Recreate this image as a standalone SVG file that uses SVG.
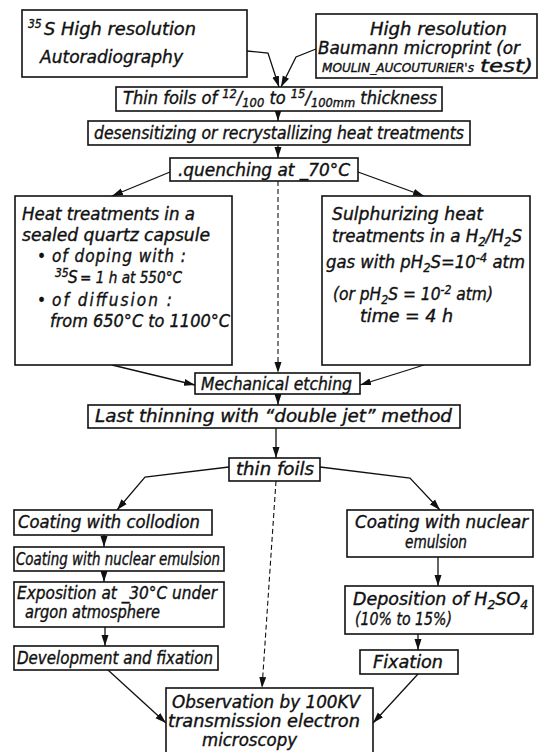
<svg xmlns="http://www.w3.org/2000/svg" width="545" height="752" viewBox="0 0 545 752">
<defs>
<style>
.b{fill:#fff;stroke:#111;stroke-width:1.6}
.t{font-family:"DejaVu Sans Condensed","DejaVu Sans",sans-serif;font-stretch:condensed;font-style:oblique;font-size:17px;fill:#111;stroke:#111;stroke-width:0.35}
.s{font-size:12px}
.c{stroke:#111;stroke-width:1.3;fill:none;marker-end:url(#a)}
.d{stroke-dasharray:5 3;stroke-width:1.1}
</style>
<marker id="a" markerUnits="userSpaceOnUse" markerWidth="12" markerHeight="8" refX="11" refY="4" orient="auto"><path d="M0,0.5 L11,4 L0,7.5 z" fill="#111"/></marker>
</defs>
<rect width="545" height="752" fill="#fff"/>
<g id="connectors">
<path class="c" d="M247,51 L268,53 L279,87"/>
<path class="c" d="M316,49 L296,57 L281,87"/>
<path class="c" d="M278,111 L278,121"/>
<path class="c" d="M278,145 L278,158"/>
<path class="c" d="M170,172 L112,196"/>
<path class="c" d="M358,172 L424,196"/>
<path class="c d" d="M278,181 L278,373"/>
<path class="c" d="M112,365 L195,385"/>
<path class="c" d="M424,365 L360,385"/>
<path class="c" d="M278,394 L278,405"/>
<path class="c" d="M276,428 L276,458"/>
<path class="c" d="M229,467 L145,477 L117,510"/>
<path class="c" d="M320,467 L410,478 L440,510"/>
<path class="c d" d="M276,481 L262,688"/>
<path class="c" d="M104,535 L104,547"/>
<path class="c" d="M104,571 L104,582"/>
<path class="c" d="M105,627 L105,646"/>
<path class="c" d="M108,670 L166,723"/>
<path class="c" d="M438,557 L438,586"/>
<path class="c" d="M418,634 L418,650"/>
<path class="c" d="M418,674 L373,723"/>
</g>
<g id="n1"><rect class="b" x="22" y="10" width="225" height="67"/>
<text class="t s" x="28" y="28">35</text>
<text class="t" x="44" y="35" style="font-size:18px" textLength="152" lengthAdjust="spacingAndGlyphs">S High resolution</text>
<text class="t" x="40" y="63" style="font-size:18px" textLength="143" lengthAdjust="spacingAndGlyphs">Autoradiography</text></g>
<g id="n2"><rect class="b" x="316" y="14" width="221" height="64"/>
<text class="t" x="370" y="35" textLength="137" lengthAdjust="spacingAndGlyphs">High resolution</text>
<text class="t" x="318" y="54" textLength="202" lengthAdjust="spacingAndGlyphs">Baumann microprint (or</text>
<text class="t" x="322" y="72" style="font-size:12.5px" textLength="152" lengthAdjust="spacingAndGlyphs">MOULIN_AUCOUTURIER's</text>
<text class="t" x="480" y="72" textLength="53" lengthAdjust="spacingAndGlyphs">test)</text></g>
<g id="n3"><rect class="b" x="116" y="87" width="326" height="24"/>
<text class="t" x="123" y="104" textLength="314" lengthAdjust="spacingAndGlyphs">Thin foils of <tspan class="s" dy="-6">12</tspan><tspan dy="6">/</tspan><tspan class="s" dy="3">100</tspan><tspan dy="-3"> to </tspan><tspan class="s" dy="-6">15</tspan><tspan dy="6">/</tspan><tspan class="s" dy="3">100mm</tspan><tspan dy="-3"> thickness</tspan></text></g>
<g id="n4"><rect class="b" x="88" y="121" width="382" height="24"/>
<text class="t" x="94" y="139" textLength="370" lengthAdjust="spacingAndGlyphs">desensitizing or recrystallizing heat treatments</text></g>
<g id="n5"><rect class="b" x="170" y="158" width="188" height="23"/>
<text class="t" x="178" y="176" textLength="172" lengthAdjust="spacingAndGlyphs">.quenching at _70°C</text></g>
<g id="n6"><rect class="b" x="15" y="196" width="217" height="169"/>
<text class="t" x="22" y="220" textLength="173" lengthAdjust="spacingAndGlyphs">Heat treatments in a</text>
<text class="t" x="22" y="241" textLength="188" lengthAdjust="spacingAndGlyphs">sealed quartz capsule</text>
<text class="t" x="37" y="262">•</text>
<text class="t" x="52" y="262" textLength="134" lengthAdjust="spacing">of doping with :</text>
<text class="t s" x="55" y="277">35</text>
<text class="t" x="68" y="283">S</text>
<text class="t" x="80" y="283" style="font-size:15px" textLength="102" lengthAdjust="spacingAndGlyphs">= 1 h at 550°C</text>
<text class="t" x="37" y="306">•</text>
<text class="t" x="52" y="306" textLength="120" lengthAdjust="spacing">of diffusion :</text>
<text class="t" x="50" y="327" textLength="180" lengthAdjust="spacingAndGlyphs">from 650°C to 1100°C</text></g>
<g id="n7"><rect class="b" x="322" y="196" width="208" height="169"/>
<text class="t" x="332" y="220" textLength="151" lengthAdjust="spacingAndGlyphs">Sulphurizing heat</text>
<text class="t" x="332" y="242" textLength="190" lengthAdjust="spacingAndGlyphs">treatments in a H<tspan class="s" dy="4">2</tspan><tspan dy="-4">/H</tspan><tspan class="s" dy="4">2</tspan><tspan dy="-4">S</tspan></text>
<text class="t" x="326" y="268" textLength="199" lengthAdjust="spacingAndGlyphs">gas with pH<tspan class="s" dy="4">2</tspan><tspan dy="-4">S=10</tspan><tspan class="s" dy="-6">-4</tspan><tspan dy="6"> atm</tspan></text>
<text class="t" x="333" y="300" textLength="160" lengthAdjust="spacingAndGlyphs">(or pH<tspan class="s" dy="4">2</tspan><tspan dy="-4">S = 10</tspan><tspan class="s" dy="-6">-2</tspan><tspan dy="6"> atm)</tspan></text>
<text class="t" x="360" y="322" textLength="93" lengthAdjust="spacingAndGlyphs">time = 4 h</text></g>
<g id="n8"><rect class="b" x="195" y="373" width="165" height="21"/>
<text class="t" x="201" y="390" textLength="151" lengthAdjust="spacingAndGlyphs">Mechanical etching</text></g>
<g id="n9"><rect class="b" x="88" y="405" width="372" height="23"/>
<text class="t" x="95" y="422" textLength="357" lengthAdjust="spacingAndGlyphs">Last thinning with “double jet” method</text></g>
<g id="n10"><rect class="b" x="229" y="458" width="91" height="23"/>
<text class="t" x="236" y="475" textLength="78" lengthAdjust="spacingAndGlyphs">thin  foils</text></g>
<g id="n11"><rect class="b" x="14" y="510" width="198" height="25"/>
<text class="t" x="18" y="528" textLength="182" lengthAdjust="spacingAndGlyphs">Coating with collodion</text></g>
<g id="n12"><rect class="b" x="14" y="547" width="210" height="24"/>
<text class="t" x="16" y="565" textLength="204" lengthAdjust="spacingAndGlyphs">Coating with nuclear emulsion</text></g>
<g id="n13"><rect class="b" x="14" y="582" width="210" height="45"/>
<text class="t" x="17" y="599" textLength="200" lengthAdjust="spacingAndGlyphs">Exposition at _30°C under</text>
<text class="t" x="25" y="618" textLength="135" lengthAdjust="spacingAndGlyphs">argon atmosphere</text></g>
<g id="n14"><rect class="b" x="14" y="646" width="204" height="24"/>
<text class="t" x="17" y="664" textLength="196" lengthAdjust="spacingAndGlyphs">Development and fixation</text></g>
<g id="n15"><rect class="b" x="347" y="510" width="186" height="47"/>
<text class="t" x="355" y="528" textLength="173" lengthAdjust="spacingAndGlyphs">Coating with nuclear</text>
<text class="t" x="405" y="548" textLength="62" lengthAdjust="spacingAndGlyphs">emulsion</text></g>
<g id="n16"><rect class="b" x="345" y="586" width="188" height="48"/>
<text class="t" x="353" y="605" textLength="175" lengthAdjust="spacingAndGlyphs">Deposition of H<tspan class="s" dy="4">2</tspan><tspan dy="-4">SO</tspan><tspan class="s" dy="4">4</tspan></text>
<text class="t" x="355" y="625" textLength="97" lengthAdjust="spacingAndGlyphs">(10% to 15%)</text></g>
<g id="n17"><rect class="b" x="360" y="650" width="98" height="24"/>
<text class="t" x="373" y="668" textLength="70" lengthAdjust="spacingAndGlyphs">Fixation</text></g>
<g id="n18"><rect class="b" x="166" y="688" width="207" height="70"/>
<text class="t" x="172" y="708" textLength="188" lengthAdjust="spacingAndGlyphs">Observation by 100KV</text>
<text class="t" x="168" y="727" textLength="192" lengthAdjust="spacingAndGlyphs">transmission electron</text>
<text class="t" x="202" y="746" textLength="95" lengthAdjust="spacingAndGlyphs">microscopy</text></g>
</svg>
